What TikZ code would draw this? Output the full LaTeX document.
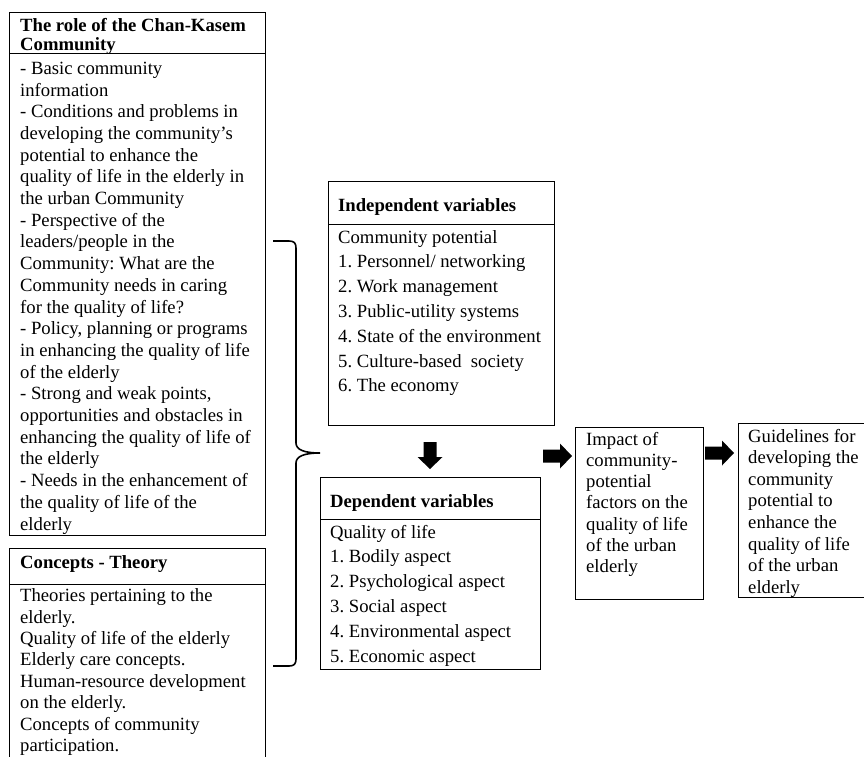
\documentclass[tikz,border=0pt]{standalone}
\usepackage{fontspec}
\setmainfont{Liberation Serif}
\frenchspacing
\begin{document}
\begin{tikzpicture}[x=1pt,y=-1pt,
  boxframe/.style={draw=black, line width=0.9pt, anchor=north west, inner sep=0pt},
  sepline/.style={draw=black, line width=0.9pt},
  bodytxt/.style={anchor=base west, inner sep=0pt, align=left, font={\fontsize{18.67}{#1}\selectfont}},
  headtxt/.style={anchor=base west, inner sep=0pt, align=left, font={\fontsize{18.67}{#1}\selectfont\bfseries}},
  blockarrow/.style={fill=black},
  bracket/.style={draw=black, line width=1.6pt}]
\useasboundingbox (0,0) rectangle (864,756);
% boxes
\node[boxframe, minimum width=256, minimum height=523] (role) at (9,12) {};
\draw[sepline] (9,53) -- (265,53);
\node[boxframe, minimum width=256, minimum height=215] (concepts) at (9,548) {};
\draw[sepline] (9,584) -- (265,584);
\node[boxframe, minimum width=226, minimum height=244] (indep) at (328,181) {};
\draw[sepline] (328,224) -- (554,224);
\node[boxframe, minimum width=220, minimum height=192] (dep) at (320,477) {};
\draw[sepline] (320,519) -- (540,519);
\node[boxframe, minimum width=128, minimum height=172] (impact) at (575,427) {};
\node[boxframe, minimum width=134, minimum height=174] (guide) at (738,423) {};
% texts (base anchor = baseline of the last line)
\node[headtxt=19.5] (roleh) at (20,50.5) {The role of the Chan-Kasem\\Community};
\node[bodytxt=21.7] (roleb) at (20,530) {- Basic community\\
information\\
- Conditions and problems in\\
developing the community’s\\
potential to enhance the\\
quality of life in the elderly in\\
the urban Community\\
- Perspective of the\\
leaders/people in the\\
Community: What are the\\
Community needs in caring\\
for the quality of life?\\
- Policy, planning or programs\\
in enhancing the quality of life\\
of the elderly\\
- Strong and weak points,\\
opportunities and obstacles in\\
enhancing the quality of life of\\
the elderly\\
- Needs in the enhancement of\\
the quality of life of the\\
elderly};
\node[headtxt=21.7] (concepth) at (20,568) {Concepts - Theory};
\node[bodytxt=21.4] (conceptb) at (20,751.5) {Theories pertaining to the\\
elderly.\\
Quality of life of the elderly\\
Elderly care concepts.\\
Human-resource development\\
on the elderly.\\
Concepts of community\\
participation.};
\node[headtxt=24.8] (indeph) at (338,211) {Independent variables};
\node[bodytxt=24.8] (indepb) at (338,391.8) {Community potential\\
1. Personnel/ networking\\
2. Work management\\
3. Public-utility systems\\
4. State of the environment\\
5. Culture-based\ \ society\\
6. The economy};
\node[headtxt=24.8] (deph) at (330,507) {Dependent variables};
\node[bodytxt=24.8] (depb) at (330,662) {Quality of life\\
1. Bodily aspect\\
2. Psychological aspect\\
3. Social aspect\\
4. Environmental aspect\\
5. Economic aspect};
\node[bodytxt=21.3] (impactt) at (586,572.8) {Impact of\\
community-\\
potential\\
factors on the\\
quality of life\\
of the urban\\
elderly};
\node[bodytxt=21.6] (guidet) at (748,593.2) {Guidelines for\\
developing the\\
community\\
potential to\\
enhance the\\
quality of life\\
of the urban\\
elderly};
% bracket
\draw[bracket] (273,241) -- (289,241) .. controls (294,241) and (296,243) .. (296,248) -- (296,443) .. controls (296,450) and (305,453) .. (320,453) .. controls (305,453) and (296,456) .. (296,463) -- (296,659) .. controls (296,664) and (294,666) .. (289,666) -- (273,666);
% block arrows
\fill[blockarrow] (423.5,442) -- (436.5,442) -- (436.5,457) -- (442.5,457) -- (430,469) -- (417.5,457) -- (423.5,457) -- cycle;
\fill[blockarrow] (543,449.5) -- (560,449.5) -- (560,443.5) -- (572,456) -- (560,468.5) -- (560,462.5) -- (543,462.5) -- cycle;
\fill[blockarrow] (705,446.5) -- (722,446.5) -- (722,440.5) -- (734,453) -- (722,465.5) -- (722,459.5) -- (705,459.5) -- cycle;
\end{tikzpicture}
\end{document}
